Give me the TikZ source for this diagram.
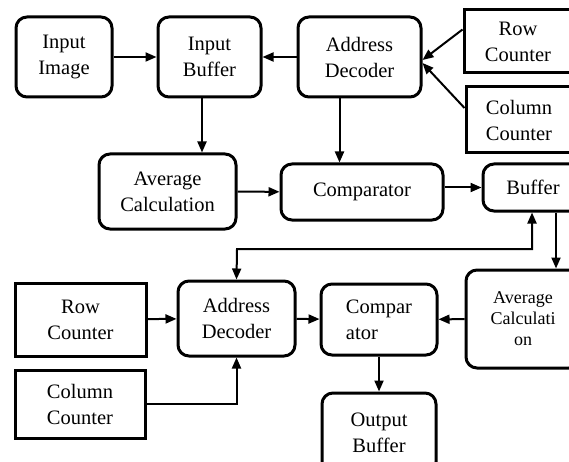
\documentclass[tikz,border=0pt]{standalone}
\usepackage{fontspec}
\setmainfont{Liberation Serif}
\usetikzlibrary{arrows.meta,positioning}
\tikzset{rbox/.style={draw, line width=3pt, rounded corners=11pt, align=center, inner sep=0pt, font=\fontsize{20.5}{26}\selectfont}}
\tikzset{sbox/.style={rbox, sharp corners}}
\tikzset{arr/.style={draw, line width=2pt, >={Triangle[length=11pt,width=9pt]}, ->}}

\begin{document}
\begin{tikzpicture}[x=1pt, y=-1pt]
    \useasboundingbox (0,0) rectangle (569,462);
    \begin{scope}
        \clip (0,0) rectangle (569,462);

        % upper stage
        \node[rbox, minimum width=96, minimum height=80] (img) at (64,57) {Input\\Image};
        \node[rbox, minimum width=103, minimum height=80] (ibuf) at (209.5,57) {Input\\Buffer};
        \node[rbox, minimum width=123, minimum height=80] (adec) at (359.5,57) {Address\\Decoder};
        \node[sbox, minimum width=108, minimum height=63] (rcnt) at (518,41.5) {Row\\Counter};
        \node[sbox, minimum width=106, minimum height=66] (ccnt) at (519,120) {Column\\Counter};
        \node[rbox, minimum width=137, minimum height=75] (avg) at (167.5,191.5) {Average\\Calculation};
        \node[rbox, minimum width=162, minimum height=56] (cmp) at (362,192) {Comparator};
        \node[rbox, minimum width=100, minimum height=47] (buf) at (533,187.5) {Buffer};

        % lower stage
        \node[sbox, minimum width=131, minimum height=73] (rcnt2) at (80.5,319.5) {Row\\Counter};
        \node[sbox, minimum width=130, minimum height=68] (ccnt2) at (80,404) {Column\\Counter};
        \node[rbox, minimum width=117, minimum height=75] (adec2) at (236.5,318.5) {Address\\Decoder};
        \node[rbox, minimum width=116, minimum height=71, align=left] (cmp2) at (379,319.5) {Compar\\ator};
        \node[rbox, minimum width=114, minimum height=98, font=\fontsize{18}{21}\selectfont] (avg2) at (523,319) {Average\\Calculati\\on};
        \node[rbox, minimum width=114, minimum height=80] (obuf) at (379,433) {Output\\Buffer};

        \coordinate (split) at (237,249);

        \draw[arr] (img) -- (ibuf);
        \draw[arr] (adec) -- (ibuf);
        \draw[arr] ([yshift=12pt]rcnt.west) -- ([yshift=-3pt]adec.east);
        \draw[arr] ([yshift=12pt]ccnt.west) -- ([yshift=-6pt]adec.east);
        \draw[arr] ([xshift=-7.5pt]ibuf.south) -- ([xshift=-7.5pt]ibuf.south |- avg.north);
        \draw[arr] ([xshift=-20pt]adec.south) -- ([xshift=-20pt]adec.south |- cmp.north);
        \draw[arr] (avg) -- (cmp);
        \draw[arr] (cmp.east |- buf.west) -- (buf.west);
        \draw[arr, <->] ([xshift=-1pt]buf.south) |- (split) -- (adec2.north);
        \draw[arr] ([xshift=23pt]buf.south) -- ([xshift=23pt]buf.south |- avg2.north);
        \draw[arr] (avg2) -- (cmp2);
        \draw[arr] (adec2) -- (cmp2);
        \draw[arr] (cmp2) -- (obuf);
        \draw[arr] (rcnt2) -- (adec2);
        \draw[arr] (ccnt2.east) -| (adec2.south);
    \end{scope}
\end{tikzpicture}
\end{document}
